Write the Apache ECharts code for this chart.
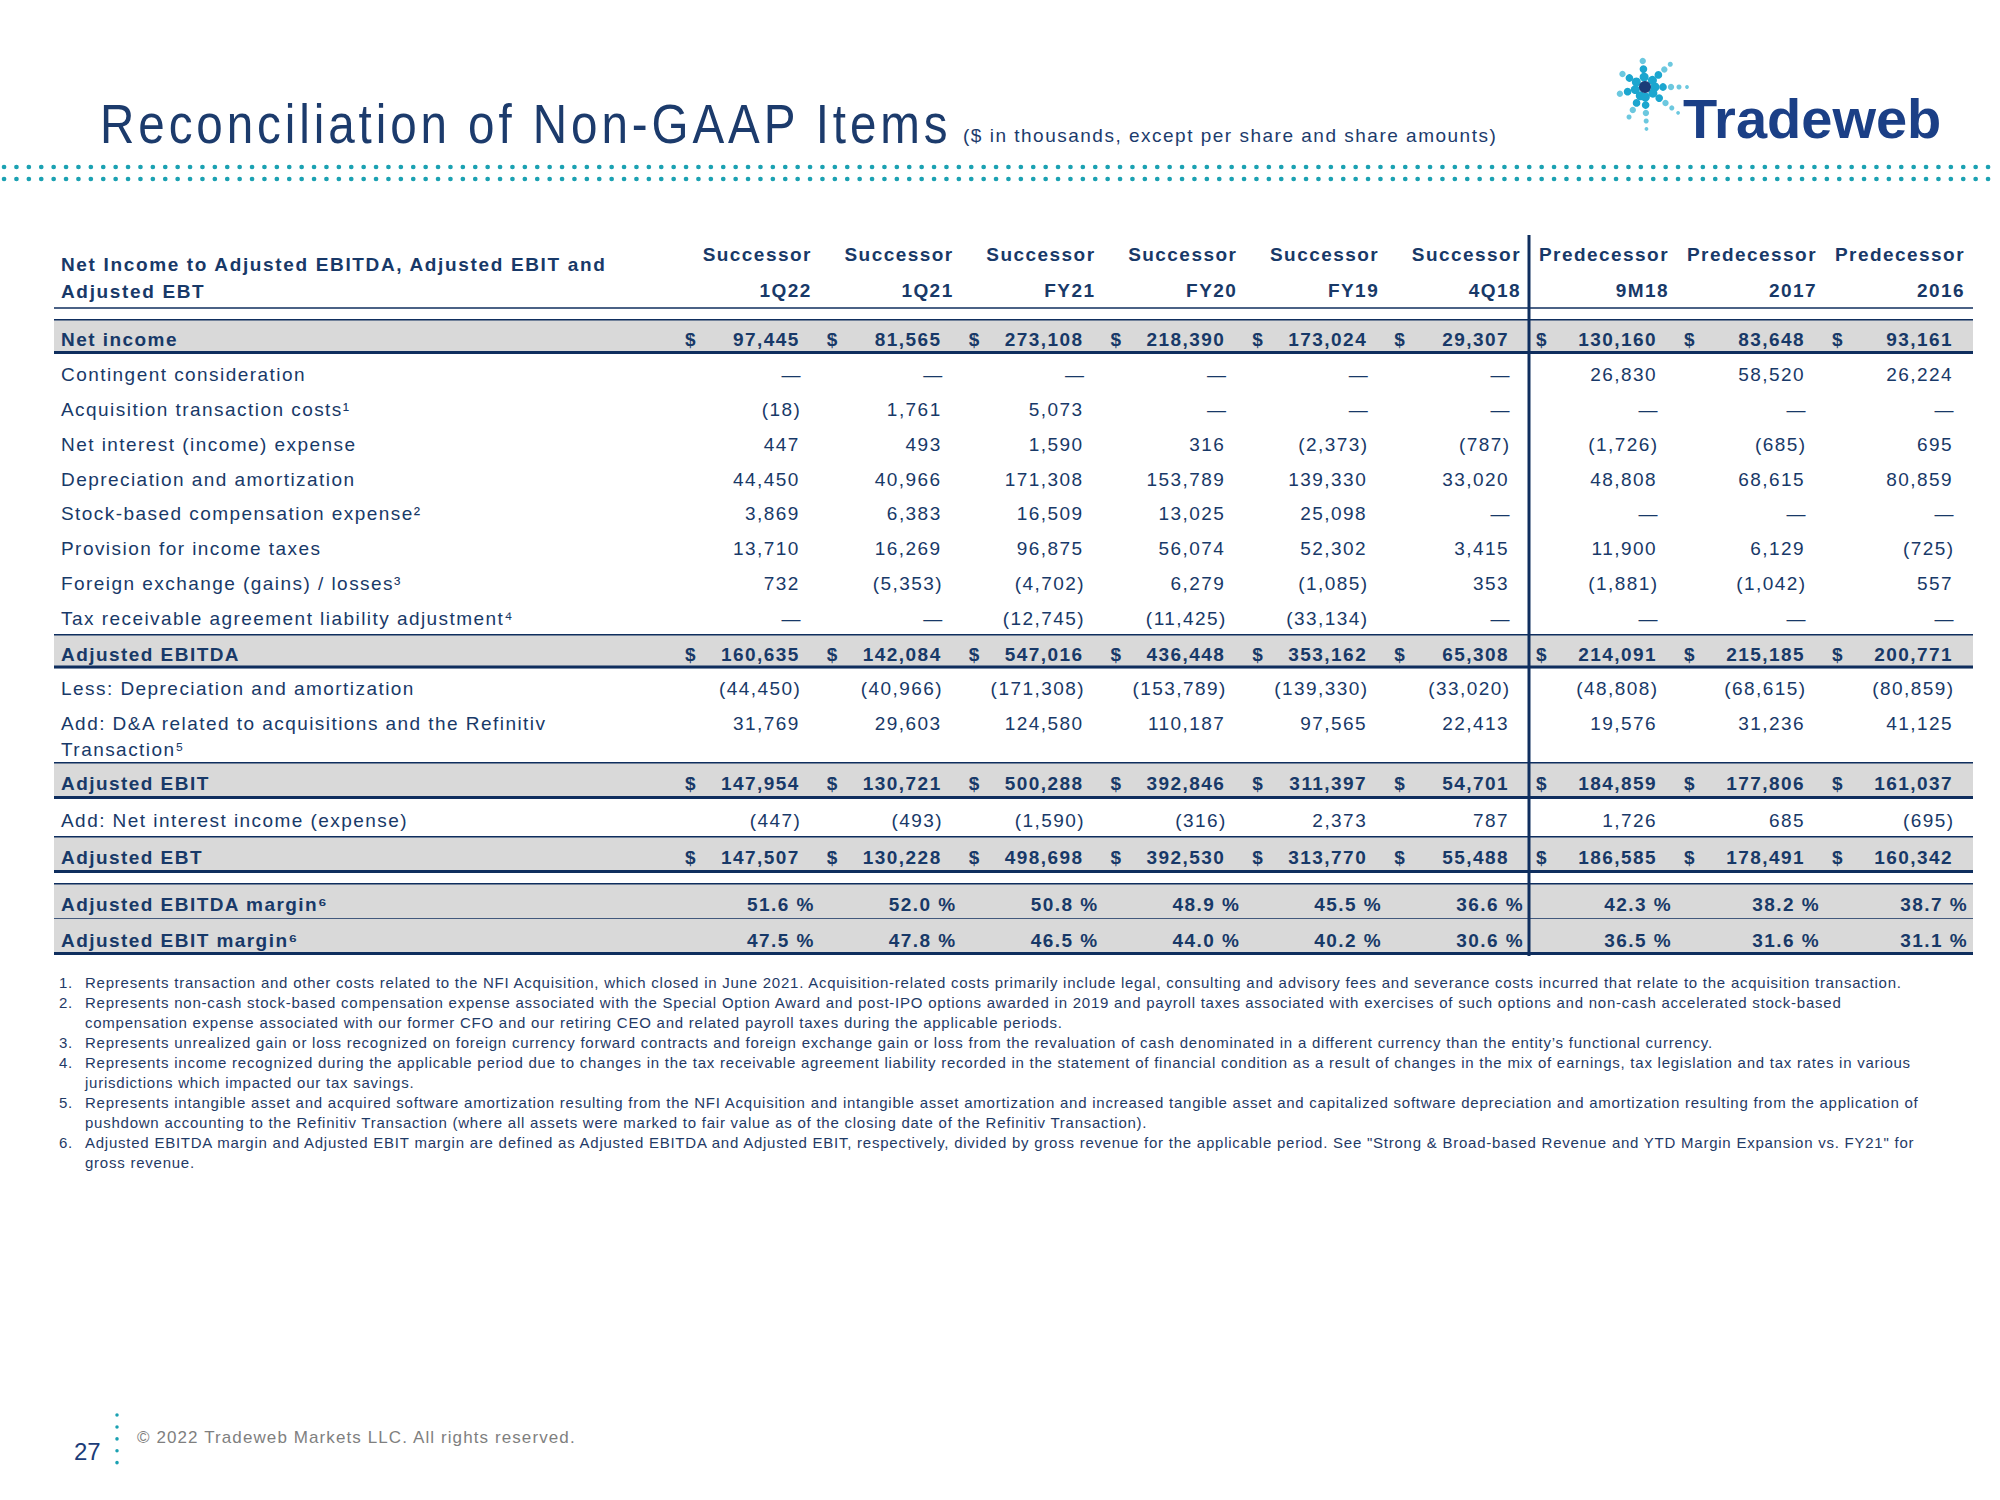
<!DOCTYPE html>
<html>
<head>
<meta charset="utf-8">
<script src="https://cdn.jsdelivr.net/npm/echarts@6/dist/echarts.min.js"></script>
<style>
html, body { margin:0; padding:0; background:#ffffff; }
#chart { width:2000px; height:1500px; }
#chart text[style*="Helvetica"] { letter-spacing: 1.45px; }
#chart text[style*="Arial"] { letter-spacing: 4.6px; }
#chart text[style*="Verdana"] { letter-spacing: 1.5px; }
#chart text[style*="Tahoma"] { letter-spacing: 1.1px; }
#chart text[style*="Georgia"] { letter-spacing: 1.65px; }
#chart text[style*="sans-serif"] { letter-spacing: 0.76px; }
</style>
</head>
<body>
<div id="chart"></div>
<script>
// ---------------- DATA ----------------
const periods = ['1Q22', '1Q21', 'FY21', 'FY20', 'FY19', '4Q18', '9M18', '2017', '2016'];
const periodStatus = ['Successor', 'Successor', 'Successor', 'Successor', 'Successor', 'Successor', 'Predecessor', 'Predecessor', 'Predecessor'];

const netIncome        = [97445, 81565, 273108, 218390, 173024, 29307, 130160, 83648, 93161];
const contingentConsid = [null, null, null, null, null, null, 26830, 58520, 26224];
const acquisitionCosts = [-18, 1761, 5073, null, null, null, null, null, null];
const netInterest      = [447, 493, 1590, 316, -2373, -787, -1726, -685, 695];
const depAmort         = [44450, 40966, 171308, 153789, 139330, 33020, 48808, 68615, 80859];
const stockComp        = [3869, 6383, 16509, 13025, 25098, null, null, null, null];
const incomeTaxes      = [13710, 16269, 96875, 56074, 52302, 3415, 11900, 6129, -725];
const fxGainsLosses    = [732, -5353, -4702, 6279, -1085, 353, -1881, -1042, 557];
const traAdjustment    = [null, null, -12745, -11425, -33134, null, null, null, null];
const adjEbitda        = [160635, 142084, 547016, 436448, 353162, 65308, 214091, 215185, 200771];
const lessDepAmort     = [-44450, -40966, -171308, -153789, -139330, -33020, -48808, -68615, -80859];
const addAcqDA         = [31769, 29603, 124580, 110187, 97565, 22413, 19576, 31236, 41125];
const adjEbit          = [147954, 130721, 500288, 392846, 311397, 54701, 184859, 177806, 161037];
const addNetInterest   = [-447, -493, -1590, -316, 2373, 787, 1726, 685, -695];
const adjEbt           = [147507, 130228, 498698, 392530, 313770, 55488, 186585, 178491, 160342];
const ebitdaMargin     = [51.6, 52.0, 50.8, 48.9, 45.5, 36.6, 42.3, 38.2, 38.7];
const ebitMargin       = [47.5, 47.8, 46.5, 44.0, 40.2, 30.6, 36.5, 31.6, 31.1];

const labelsA = ['Net income', 'Contingent consideration', 'Acquisition transaction costs\u00B9',
  'Net interest (income) expense', 'Depreciation and amortization', 'Stock-based compensation expense\u00B2',
  'Provision for income taxes', 'Foreign exchange (gains) / losses\u00B3', 'Tax receivable agreement liability adjustment\u2074'];
const labelsB = ['Adjusted EBITDA', 'Less: Depreciation and amortization', 'Add: D&A related to acquisitions and the Refinitiv Transaction\u2075'];
const labelsC = ['Adjusted EBIT', 'Add: Net interest income (expense)', 'Adjusted EBT'];
const labelsD = ['Adjusted EBITDA margin\u2076', 'Adjusted EBIT margin\u2076'];

const tableHeader = ['Net Income to Adjusted EBITDA, Adjusted EBIT and', 'Adjusted EBT'];

const footnotes = [
  ['1.', 'Represents transaction and other costs related to the NFI Acquisition, which closed in June 2021. Acquisition-related costs primarily include legal, consulting and advisory fees and severance costs incurred that relate to the acquisition transaction.'],
  ['2.', 'Represents non-cash stock-based compensation expense associated with the Special Option Award and post-IPO options awarded in 2019 and payroll taxes associated with exercises of such options and non-cash accelerated stock-based'],
  ['', 'compensation expense associated with our former CFO and our retiring CEO and related payroll taxes during the applicable periods.'],
  ['3.', 'Represents unrealized gain or loss recognized on foreign currency forward contracts and foreign exchange gain or loss from the revaluation of cash denominated in a different currency than the entity\u2019s functional currency.'],
  ['4.', 'Represents income recognized during the applicable period due to changes in the tax receivable agreement liability recorded in the statement of financial condition as a result of changes in the mix of earnings, tax legislation and tax rates in various'],
  ['', 'jurisdictions which impacted our tax savings.'],
  ['5.', 'Represents intangible asset and acquired software amortization resulting from the NFI Acquisition and intangible asset amortization and increased tangible asset and capitalized software depreciation and amortization resulting from the application of'],
  ['', 'pushdown accounting to the Refinitiv Transaction (where all assets were marked to fair value as of the closing date of the Refinitiv Transaction).'],
  ['6.', 'Adjusted EBITDA margin and Adjusted EBIT margin are defined as Adjusted EBITDA and Adjusted EBIT, respectively, divided by gross revenue for the applicable period. See "Strong & Broad-based Revenue and YTD Margin Expansion vs. FY21" for'],
  ['', 'gross revenue.']
];

// ---------------- STYLE / LAYOUT ----------------
const NAVY = '#183968', LINE = '#0F2E5E', GRAY = '#D9D9D9', TEAL = '#1BA1B2';
const TF = "'Liberation Sans', Helvetica";
const FS = 19;
const DY = 3;

const sections = [
  { top: 236, height: 72, labels: ['status', 'period'], header: true, kinds: ['none', 'underline'] },
  { top: 319, height: 314, labels: labelsA,
    values: [netIncome, contingentConsid, acquisitionCosts, netInterest, depAmort, stockComp, incomeTaxes, fxGainsLosses, traAdjustment],
    kinds: ['total', 'plain', 'plain', 'plain', 'plain', 'plain', 'plain', 'plain', 'plain'] },
  { top: 634, height: 103.5, labels: labelsB, values: [adjEbitda, lessDepAmort, addAcqDA], kinds: ['total', 'plain', 'plain'] },
  { top: 762, height: 111, labels: labelsC, values: [adjEbit, addNetInterest, adjEbt], kinds: ['total', 'plain', 'total'] },
  { top: 883, height: 72, labels: labelsD, values: [ebitdaMargin, ebitMargin], kinds: ['pct', 'pct'] }
];
const colGroups = [
  { left: 658, width: 851, cols: [0, 1, 2, 3, 4, 5] },
  { left: 1509, width: 444, cols: [6, 7, 8] }
];
const band = { left: 54, width: 1919 };

function fmtNum(v) {
  if (v == null) return '\u2014';
  const s = Math.abs(v).toLocaleString('en-US');
  return v < 0 ? '(' + s + ')' : s;
}
function txt(text, x, y, align, font, fill) {
  return { type: 'text', silent: true, style: { text: text, x: x, y: y, align: align, verticalAlign: 'middle', font: font, fill: fill || NAVY } };
}

function cellRenderer(cells) {
  return function (params, api) {
    const c = cells[params.dataIndex];
    const pt = api.coord([api.value(0), api.value(1)]);
    const sz = api.size([1, 1]);
    const right = pt[0] + sz[0] / 2, left = pt[0] - sz[0] / 2;
    const kids = [];
    if (c.kind === 'header') {
      kids.push(txt(c.text, right + 12, pt[1], 'right', 'bold ' + FS + 'px ' + TF));
    } else {
      const y = pt[1] + DY;
      const bold = c.kind !== 'plain';
      const font = (bold ? 'bold ' : '') + FS + 'px ' + TF;
      if (c.kind === 'pct') {
        kids.push(txt(c.v.toFixed(1) + ' %', right + 15, y, 'right', font));
      } else {
        const off = c.v == null ? 2 : (c.v < 0 ? 1.5 : 0);
        kids.push(txt(fmtNum(c.v), right + off, y, 'right', font));
        if (c.kind === 'total') kids.push(txt('$', left + 33, y, 'center', font));
      }
    }
    return { type: 'group', children: kids };
  };
}

function bandRenderer(sec) {
  const kinds = sec.kinds;
  const firstPct = kinds.indexOf('pct'), lastPct = kinds.lastIndexOf('pct');
  return function (params, api) {
    const i = api.value(1);
    const k = kinds[i];
    const pt = api.coord([0, i]);
    const sz = api.size([1, 1]);
    const x0 = pt[0] - sz[0] / 2, x1 = pt[0] + sz[0] / 2;
    const y0 = pt[1] - sz[1] / 2, y1 = pt[1] + sz[1] / 2;
    const kids = [];
    const ln = function (y, w) {
      return { type: 'line', shape: { x1: x0, y1: y, x2: x1, y2: y }, style: { stroke: LINE, lineWidth: w } };
    };
    if (k === 'underline') kids.push(ln(y1, 1.5));
    if (k === 'total' || k === 'pct') {
      kids.push({ type: 'rect', shape: { x: x0, y: y0, width: x1 - x0, height: y1 - y0 }, style: { fill: GRAY } });
      if (k === 'total' || i === firstPct) kids.push(ln(y0 + 0.75, 1.5));
      if (k === 'total' || i === lastPct) kids.push(ln(y1 - 1.5, 3));
      else kids.push(ln(y1, 1.5));
    }
    if (!sec.header) {
      const font = (k === 'plain' ? '' : 'bold ') + FS + 'px ' + TF;
      const label = sec.labels[i];
      if (label.length > 55) {
        const cut = label.lastIndexOf(' ', 51);
        kids.push(txt(label.slice(0, cut), x0 + 7, pt[1] + DY, 'left', font));
        kids.push(txt(label.slice(cut + 1), x0 + 7, pt[1] + DY + 26, 'left', font));
      } else {
        kids.push(txt(label, x0 + 7, pt[1] + DY, 'left', font));
      }
    }
    return { type: 'group', children: kids };
  };
}

const grids = [], xAxes = [], yAxes = [], series = [];
function addGrid(left, top, width, height) {
  grids.push({ left: left, top: top, width: width, height: height, containLabel: false, outerBoundsMode: 'none', show: false });
  return grids.length - 1;
}

sections.forEach(function (sec) {
  // full-width band grid: row bands, rules and row labels
  const bi = addGrid(band.left, sec.top, band.width, sec.height);
  xAxes.push({ gridIndex: bi, type: 'category', data: [''], show: false });
  yAxes.push({ gridIndex: bi, type: 'category', inverse: true, show: false, data: sec.labels });
  series.push({
    type: 'custom', xAxisIndex: bi, yAxisIndex: bi, z: 1, silent: true, animation: false,
    data: sec.labels.map(function (_, i) { return [0, i]; }),
    renderItem: bandRenderer(sec)
  });

  // value columns
  colGroups.forEach(function (g) {
    const gi = addGrid(g.left, sec.top, g.width, sec.height);
    xAxes.push({ gridIndex: gi, type: 'category', data: g.cols.map(function (c) { return periods[c]; }), show: false });
    yAxes.push({ gridIndex: gi, type: 'category', inverse: true, data: sec.labels, show: false });
    const cells = [];
    g.cols.forEach(function (c, ci) {
      if (sec.header) {
        cells.push({ col: ci, row: 0, kind: 'header', text: periodStatus[c] });
        cells.push({ col: ci, row: 1, kind: 'header', text: periods[c] });
      } else {
        sec.values.forEach(function (arr, ri) {
          cells.push({ col: ci, row: ri, kind: sec.kinds[ri], v: arr[c] });
        });
      }
    });
    series.push({
      type: 'custom', xAxisIndex: gi, yAxisIndex: gi, z: 4, silent: true, animation: false,
      data: cells.map(function (c) { return [c.col, c.row]; }),
      renderItem: cellRenderer(cells)
    });
  });
});

// ---------------- DECORATION / STATIC TEXT ----------------
const graphics = [];
// title (condensed, letter-spaced)
graphics.push({ type: 'text', x: 100, y: 124, scaleX: 0.85, silent: true,
  style: { text: 'Reconciliation of Non-GAAP Items', font: "56px 'Liberation Sans', Arial", fill: '#1C3B6C', verticalAlign: 'middle' } });
graphics.push({ type: 'text', x: 963, y: 135, silent: true,
  style: { text: '($ in thousands, except per share and share amounts)', font: "19px 'Liberation Sans', Verdana", fill: '#1C3B6C', verticalAlign: 'middle' } });
// logo
graphics.push({ type: 'text', x: 1683, y: 118, silent: true,
  style: { text: 'Tradeweb', font: "bold 56px 'Liberation Sans'", fill: '#1B3F86', verticalAlign: 'middle' } });
const rays = [[0, 5], [-42, 4], [-95, 3], [-150, 3], [165, 3], [118, 4], [88, 5], [38, 5]];
rays.forEach(function (r) {
  const a = r[0] * Math.PI / 180;
  for (let k = 0; k < r[1]; k++) {
    const d = 10 + k * 8;
    graphics.push({ type: 'circle', silent: true,
      shape: { cx: 1645 + d * Math.cos(a), cy: 87 + d * Math.sin(a), r: Math.max(1.6, 4.5 - k * 0.65) },
      style: { fill: k < 2 ? '#1CA6CF' : '#6CC8DF' } });
  }
});
graphics.push({ type: 'circle', silent: true, shape: { cx: 1645, cy: 87, r: 6 }, style: { fill: '#1B3C78' } });
// dotted rules
[167, 179].forEach(function (y) {
  graphics.push({ type: 'line', silent: true, shape: { x1: 4, y1: y, x2: 1998, y2: y },
    style: { stroke: TEAL, lineWidth: 4.6, lineDash: [0.1, 12.3], lineCap: 'round' } });
});
// table header (left)
tableHeader.forEach(function (t, i) {
  graphics.push({ type: 'text', x: 61, y: i === 0 ? 264 : 291, silent: true,
    style: { text: t, font: "bold 19px 'Liberation Sans', Georgia", fill: NAVY, verticalAlign: 'middle' } });
});
// successor / predecessor divider
graphics.push({ type: 'line', silent: true, z: 10, shape: { x1: 1529, y1: 235, x2: 1529, y2: 956 },
  style: { stroke: LINE, lineWidth: 3 } });
// footnotes
footnotes.forEach(function (f, i) {
  const y = 982 + i * 20;
  if (f[0]) graphics.push({ type: 'text', x: 59, y: y, silent: true,
    style: { text: f[0], font: "15px 'Liberation Sans', sans-serif", fill: '#1F3A66', verticalAlign: 'middle' } });
  graphics.push({ type: 'text', x: 85, y: y, silent: true,
    style: { text: f[1], font: "15px 'Liberation Sans', sans-serif", fill: '#1F3A66', verticalAlign: 'middle' } });
});
// footer
graphics.push({ type: 'text', x: 74, y: 1451, silent: true,
  style: { text: '27', font: "24px 'Liberation Sans'", fill: '#1B3C78', verticalAlign: 'middle' } });
graphics.push({ type: 'line', silent: true, shape: { x1: 117, y1: 1415, x2: 117, y2: 1464 },
  style: { stroke: TEAL, lineWidth: 3.5, lineDash: [0.1, 11.8], lineCap: 'round' } });
graphics.push({ type: 'text', x: 137, y: 1437, silent: true,
  style: { text: '\u00A9 2022 Tradeweb Markets LLC. All rights reserved.', font: "17px 'Liberation Sans', Tahoma", fill: '#7F7F7F', verticalAlign: 'middle' } });

const chart = echarts.init(document.getElementById('chart'), null, { renderer: 'svg' });
chart.setOption({
  backgroundColor: '#ffffff',
  animation: false,
  grid: grids, xAxis: xAxes, yAxis: yAxes, series: series,
  graphic: { elements: graphics }
});
</script>
</body>
</html>
